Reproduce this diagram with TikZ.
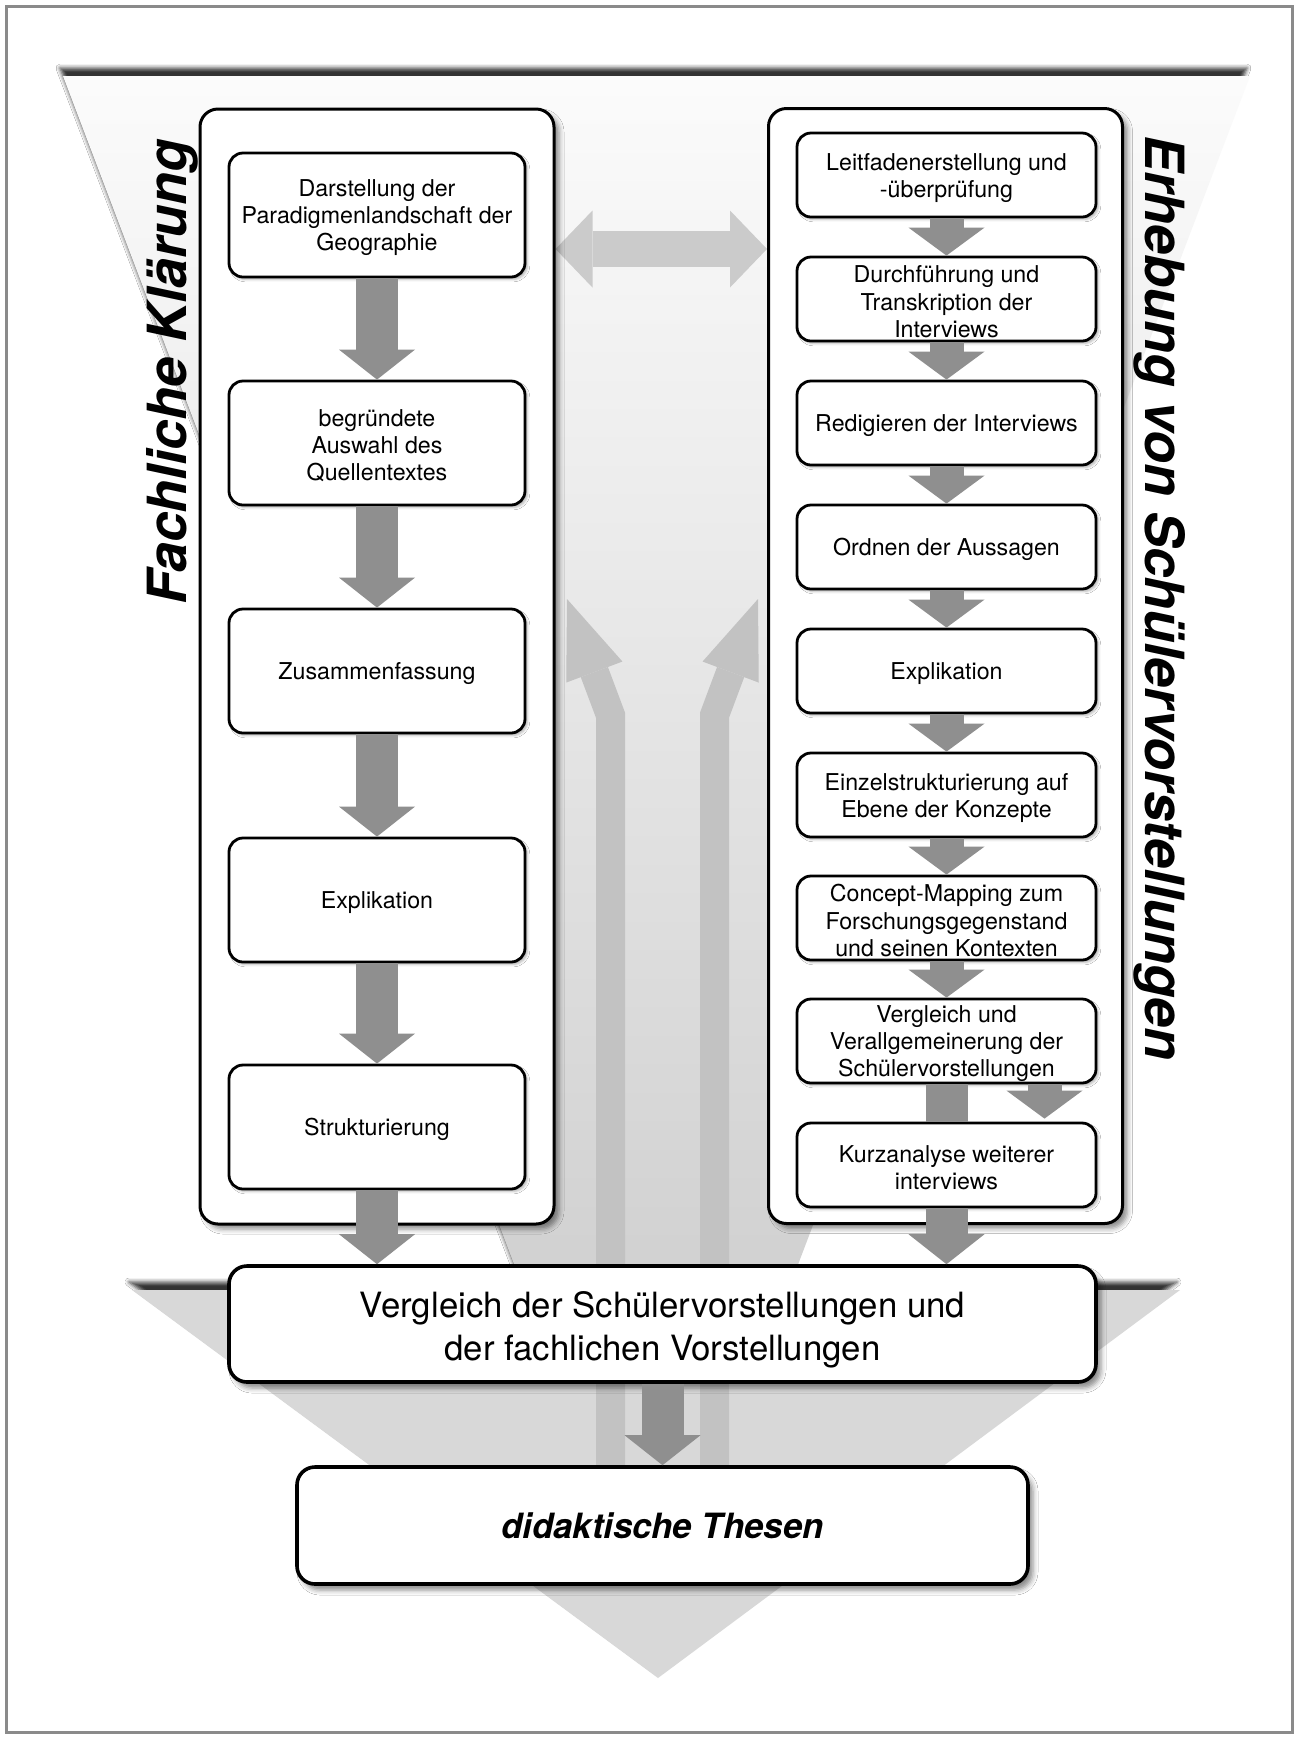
\documentclass[tikz,border=0pt]{standalone}
\usepackage{fontspec}
\setmainfont{TeX Gyre Heros}
\usetikzlibrary{arrows.meta,shadows.blur}

\definecolor{flowgray}{RGB}{143,143,143}
\definecolor{risegray}{RGB}{194,194,194}
\definecolor{pairgray}{RGB}{203,203,203}
\definecolor{funnelgray}{RGB}{216,216,216}
\definecolor{framegray}{RGB}{138,138,138}

% invisible strut that lowers the text a little
\newcommand{\lift}[1]{\rule{0pt}{#1}}

\pgfdeclarelayer{back}
\pgfsetlayers{back,main}

\tikzset{
	stepbox/.style={draw=black, line width=1.4pt, rounded corners=7pt, fill=white, align=center, inner sep=0pt,
		font=\fontsize{11.6}{13.6}\selectfont,
		blur shadow={shadow xshift=1.2pt, shadow yshift=-1.2pt, shadow blur radius=1.2pt, shadow opacity=30}},
	leftstep/.style={stepbox, minimum width=148pt, minimum height=62pt},
	rightstep/.style={stepbox, minimum width=149.5pt, minimum height=42pt},
	column/.style={draw=black, line width=1.5pt, rounded corners=9pt, fill=white, minimum width=177pt, minimum height=557.5pt,
		blur shadow={shadow xshift=2.5pt, shadow yshift=-2.5pt, shadow blur radius=2.5pt, shadow opacity=45}},
	result/.style={draw=black, line width=1.8pt, rounded corners=9pt, fill=white, align=center, inner sep=0pt,
		font=\fontsize{17.4}{21.6}\selectfont,
		blur shadow={shadow xshift=2.5pt, shadow yshift=-3pt, shadow blur radius=2.5pt, shadow opacity=45}},
	heading/.style={font=\fontsize{27}{30}\selectfont\bfseries\itshape, inner sep=0pt},
	bigflow/.style={draw=flowgray, line width=21pt, -{Triangle[length=15pt, width=38pt, line width=0pt]}},
	smallflow/.style={draw=flowgray, line width=17pt, -{Triangle[length=14pt, width=38pt, line width=0pt]}},
	shaft/.style={draw=flowgray, line width=21pt},
	riser/.style={draw=risegray, line width=14.5pt, line join=miter, -{Triangle[length=39pt, width=30pt, line width=0pt]}},
	exchange/.style={draw=pairgray, line width=18pt,
		{Triangle[length=18.5pt, width=38.5pt, line width=0pt]}-{Triangle[length=18.5pt, width=38.5pt, line width=0pt]}},
	funnelshadow/.style={blur shadow={shadow xshift=-1.5pt, shadow yshift=4pt, shadow blur radius=2pt, shadow opacity=80}}
}

\begin{document}
\begin{tikzpicture}[x=0.5pt, y=-0.5pt]
	\useasboundingbox (0,0) rectangle (1298,1737);

	% the two columns
	\node[column] (fk) at (377,666.5) {};
	\node[column] (es) at (945.5,666) {};

	\node[heading, rotate=90]  (fktitle) at (172,372)  {Fachliche Klärung};
	\node[heading, rotate=-90] (estitle) at (1160,598) {Erhebung von Schülervorstellungen};

	% fachliche Klaerung
	\node[leftstep] (a1) at (377,215)  {\lift{11.3pt}Darstellung der\\Paradigmenlandschaft der\\Geographie};
	\node[leftstep] (a2) at (377,443)  {\lift{11.3pt}begründete\\Auswahl des\\Quellentextes};
	\node[leftstep] (a3) at (377,671)  {\lift{11.3pt}Zusammenfassung};
	\node[leftstep] (a4) at (377,900)  {\lift{11.3pt}Explikation};
	\node[leftstep] (a5) at (377,1127) {\lift{11.3pt}Strukturierung};

	% Erhebung
	\node[rightstep] (b1) at (946.5,175)  {\lift{11.3pt}Leitfadenerstellung und\\-überprüfung};
	\node[rightstep] (b2) at (946.5,299)  {\lift{11.3pt}Durchführung und\\Transkription der\\Interviews};
	\node[rightstep] (b3) at (946.5,423)  {\lift{11.3pt}Redigieren der Interviews};
	\node[rightstep] (b4) at (946.5,547)  {\lift{11.3pt}Ordnen der Aussagen};
	\node[rightstep] (b5) at (946.5,671)  {\lift{11.3pt}Explikation};
	\node[rightstep] (b6) at (946.5,795)  {\lift{11.3pt}Einzelstrukturierung auf\\Ebene der Konzepte};
	\node[rightstep] (b7) at (946.5,918)  {\lift{11.3pt}Concept-Mapping zum\\Forschungsgegenstand\\und seinen Kontexten};
	\node[rightstep] (b8) at (946.5,1041) {\lift{11.3pt}Vergleich und\\Verallgemeinerung der\\Schülervorstellungen};
	\node[rightstep] (b9) at (946.5,1165) {\lift{11.3pt}Kurzanalyse weiterer\\interviews};

	% results
	\node[result, minimum width=433.5pt, minimum height=58pt] (vgl) at (662.5,1324)
		{\lift{19pt}Vergleich der Schülervorstellungen und\\der fachlichen Vorstellungen};
	\node[result, minimum width=365.5pt, minimum height=58.5pt, font=\fontsize{17.4}{21.6}\selectfont\bfseries\itshape] (thesen) at (662.5,1525.5)
		{didaktische Thesen};

	\foreach \i/\j in {a1/a2,a2/a3,a3/a4,a4/a5}
		\draw[bigflow] (\i.south) -- (\j.north);
	\foreach \i/\j in {b1/b2,b2/b3,b3/b4,b4/b5,b5/b6,b6/b7,b7/b8}
		\draw[smallflow] (\i.south) -- (\j.north);
	\draw[shaft] (b8.south) -- (b9.north);
	\draw[smallflow] ([xshift=49pt]b8.south) -- ([xshift=49pt,yshift=1.5pt]b9.north);

	\draw[bigflow] (a5.south) -- (a5.south |- vgl.north);
	\draw[bigflow] (b9.south) -- (b9.south |- vgl.north);
	\draw[bigflow] (vgl.south) -- (thesen.north);

	\coordinate (pairy) at (0,249);
	\coordinate (tipL) at (567,599);
	\coordinate (tipR) at (758,599);

	\begin{pgfonlayer}{back}
		\fill[white] (0,0) rectangle (1298,1737);
		\draw[framegray, line width=1.5pt] (6,6) rectangle (1292,1732);
		\shade[top color=gray!3, bottom color=gray!46, funnelshadow] (63,76) -- (1250,76) -- (656,1638) -- cycle;
		\fill[funnelgray, funnelshadow] (132,1290) -- (1180,1290) -- (658,1678) -- cycle;
		\draw[riser] ([xshift=-26pt]thesen.north) -- ++(0,-750) -- (tipL);
		\draw[riser] ([xshift=26pt]thesen.north) -- ++(0,-750) -- (tipR);
		\draw[exchange] (fk.east |- pairy) -- (es.west |- pairy);
	\end{pgfonlayer}
\end{tikzpicture}
\end{document}
